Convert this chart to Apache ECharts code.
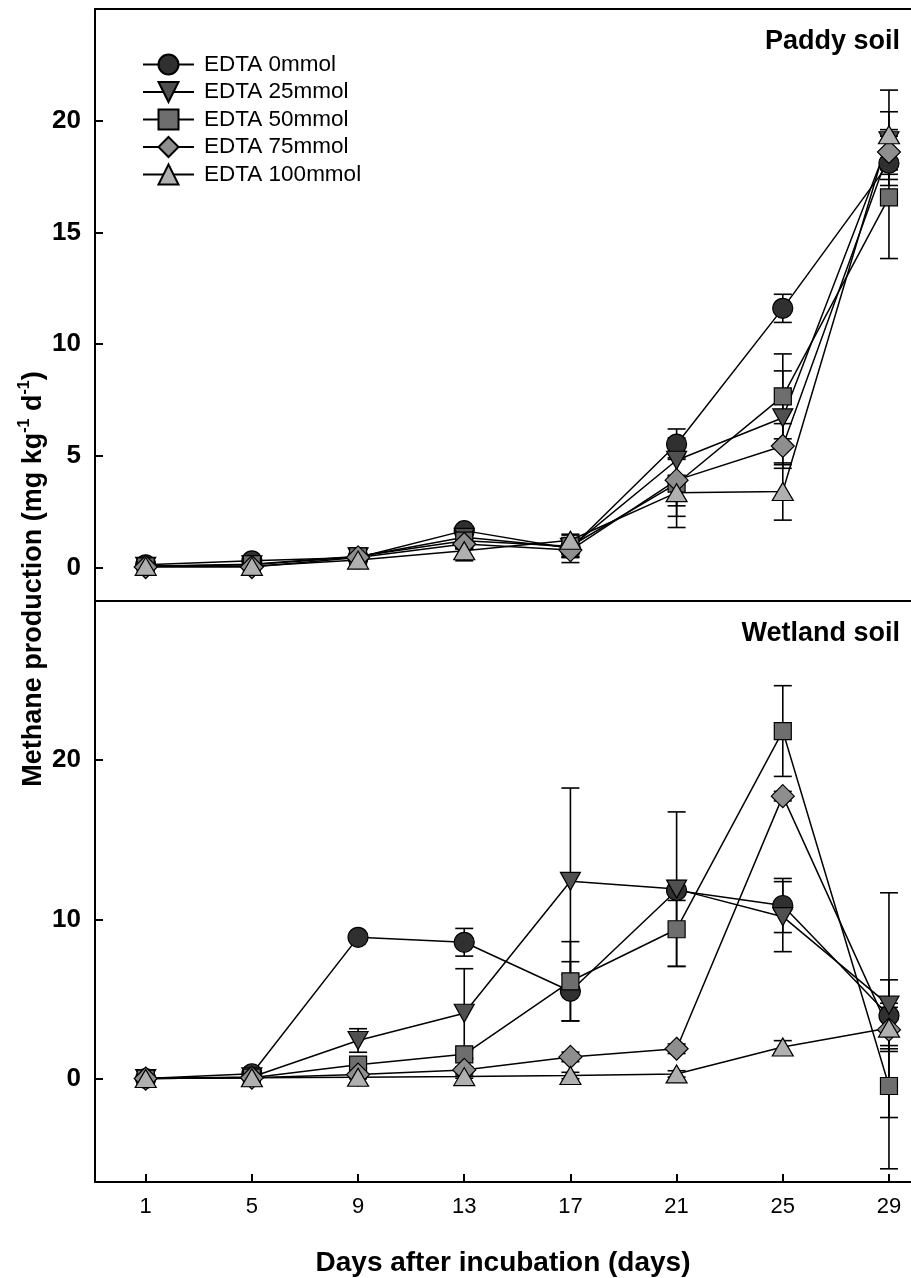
<!DOCTYPE html>
<html>
<head>
<meta charset="utf-8">
<script src="https://cdn.jsdelivr.net/npm/echarts@6/dist/echarts.min.js"></script>
<style>
html,body{margin:0;padding:0;background:#fff;}
#chart{width:911px;height:1278px;}
</style>
</head>
<body>
<div id="chart"></div>
<script>
// ---------- DATA ----------
const days = [1, 5, 9, 13, 17, 21, 25, 29];
const xTickValues = [1, 5, 9, 13, 17, 21, 25, 29];
const paddyTickValues = [0, 5, 10, 15, 20];
const wetlandTickValues = [0, 10, 20];
const seriesNames = ['EDTA 0mmol', 'EDTA 25mmol', 'EDTA 50mmol', 'EDTA 75mmol', 'EDTA 100mmol'];

// Paddy soil (top panel)
const paddy0   = [0.12, 0.30, 0.45, 1.65, 0.85, 5.52, 11.60, 18.10];
const paddy25  = [0.05, 0.12, 0.48, 1.35, 0.90, 4.80, 6.70, 19.10];
const paddy50  = [0.05, 0.15, 0.50, 1.20, 0.95, 3.75, 7.66, 16.57];
const paddy75  = [0.02, 0.02, 0.45, 1.05, 0.78, 3.91, 5.44, 18.60];
const paddy100 = [0.05, 0.05, 0.33, 0.75, 1.22, 3.35, 3.40, 19.37];
const paddyErr0   = [0.05, 0.10, 0.10, 0.20, 0.40, 0.68, 0.63, 1.00];
const paddyErr25  = [0.05, 0.10, 0.10, 0.20, 0.40, 1.00, 2.10, 1.30];
const paddyErr50  = [0.05, 0.10, 0.10, 0.20, 0.50, 1.46, 1.90, 2.74];
const paddyErr75  = [0.05, 0.10, 0.10, 0.20, 0.56, 1.15, 1.00, 1.00];
const paddyErr100 = [0.05, 0.10, 0.10, 0.45, 0.27, 1.56, 1.28, 2.00];

// Wetland soil (bottom panel)
const wet0   = [0.00, 0.30, 8.87, 8.56, 5.48, 11.81, 10.87, 3.95];
const wet25  = [0.00, 0.10, 2.39, 4.10, 12.39, 11.90, 10.17, 4.61];
const wet50  = [0.00, 0.05, 0.87, 1.52, 6.11, 9.38, 21.83, -0.47];
const wet75  = [0.00, 0.05, 0.25, 0.54, 1.36, 1.87, 17.74, 3.07];
const wet100 = [0.00, 0.05, 0.08, 0.12, 0.19, 0.29, 1.98, 3.17];
const wetErr0   = [0.05, 0.10, 0.20, 0.87, 1.86, 0.62, 1.70, 2.25];
const wetErr25  = [0.05, 0.10, 0.74, 2.80, 5.86, 4.85, 2.20, 7.06];
const wetErr50  = [0.05, 0.10, 0.20, 0.30, 2.49, 2.34, 2.85, 5.20];
const wetErr75  = [0.05, 0.10, 0.10, 0.20, 0.30, 0.30, 0.30, 1.00];
const wetErr100 = [0.05, 0.10, 0.10, 0.10, 0.20, 0.20, 0.40, 1.30];

// ---------- STYLE ----------
const paddyVals = [paddy0, paddy25, paddy50, paddy75, paddy100];
const paddyErrs = [paddyErr0, paddyErr25, paddyErr50, paddyErr75, paddyErr100];
const wetVals = [wet0, wet25, wet50, wet75, wet100];
const wetErrs = [wetErr0, wetErr25, wetErr50, wetErr75, wetErr100];

const markers = [
  {symbol: 'circle',   size: 20, rotate: 0,   color: '#303030'},
  {symbol: 'triangle', size: [20, 18], rotate: 180, color: '#505050'},
  {symbol: 'rect',     size: 17, rotate: 0,   color: '#6e6e6e'},
  {symbol: 'diamond',  size: 23, rotate: 0,   color: '#8e8e8e'},
  {symbol: 'triangle', size: [21, 18], rotate: 0,   color: '#b0b0b0'}
];

const FONT = 'Arial, "Liberation Sans", Helvetica, sans-serif';

function errRender(params, api) {
  const x = api.value(0), lo = api.value(1), hi = api.value(2);
  const pTop = api.coord([x, hi]);
  const pBot = api.coord([x, lo]);
  const hw = 9;
  const st = {stroke: '#000', lineWidth: 1.6};
  return {
    type: 'group',
    children: [
      {type: 'line', shape: {x1: pTop[0], y1: pTop[1], x2: pBot[0], y2: pBot[1]}, style: st},
      {type: 'line', shape: {x1: pTop[0] - hw, y1: pTop[1], x2: pTop[0] + hw, y2: pTop[1]}, style: st},
      {type: 'line', shape: {x1: pBot[0] - hw, y1: pBot[1], x2: pBot[0] + hw, y2: pBot[1]}, style: st}
    ]
  };
}

const lineSeries = [];
const errSeries = [];
function addPanel(vals, errs, xIdx, yIdx) {
  vals.forEach((arr, i) => {
    const m = markers[i];
    lineSeries.push({
      type: 'line',
      name: seriesNames[i],
      xAxisIndex: xIdx, yAxisIndex: yIdx,
      data: days.map((d, k) => [d, arr[k]]),
      symbol: m.symbol,
      symbolSize: m.size,
      symbolRotate: m.rotate,
      showAllSymbol: true,
      itemStyle: {color: m.color, borderColor: '#000', borderWidth: 1.2},
      lineStyle: {color: '#000', width: 1.5},
      z: 3
    });
    errSeries.push({
      type: 'custom',
      xAxisIndex: xIdx, yAxisIndex: yIdx,
      renderItem: errRender,
      encode: {x: 0, y: [1, 2]},
      data: days.map((d, k) => [d, arr[k] - errs[i][k], arr[k] + errs[i][k]]),
      z: 2,
      silent: true
    });
  });
}
addPanel(paddyVals, paddyErrs, 0, 0);
addPanel(wetVals, wetErrs, 2, 1);

const axisLineStyle = {show: true, onZero: false, lineStyle: {color: '#000', width: 2}};
const X_MIN = -0.91, X_MAX = 29.83;

const option = {
  animation: false,
  backgroundColor: '#fff',
  grid: [
    {left: 95, right: 0, top: 9, height: 592},
    {left: 95, right: 0, top: 601, height: 590}
  ],
  legend: {
    data: seriesNames,
    orient: 'vertical',
    left: 137, top: 48,
    itemWidth: 51, itemHeight: 25, itemGap: 4.5,
    textStyle: {fontFamily: FONT, fontSize: 22.5, color: '#000', padding: [0, 0, 0, 5]},
    selectedMode: false
  },
  xAxis: [
    {type: 'value', gridIndex: 0, position: 'bottom', min: X_MIN, max: X_MAX,
     axisLine: axisLineStyle, axisTick: {show: false}, axisLabel: {show: false}, splitLine: {show: false}},
    {type: 'value', gridIndex: 0, position: 'top', min: X_MIN, max: X_MAX,
     axisLine: axisLineStyle, axisTick: {show: false}, axisLabel: {show: false}, splitLine: {show: false}},
    {type: 'value', gridIndex: 1, position: 'bottom', min: X_MIN, max: X_MAX,
     axisLine: axisLineStyle,
     axisTick: {show: true, inside: true, length: 8, lineStyle: {color: '#000', width: 2}, customValues: xTickValues},
     axisLabel: {show: true, margin: 14, fontFamily: FONT, fontSize: 22, color: '#000', customValues: xTickValues},
     splitLine: {show: false},
     name: 'Days after incubation (days)', nameLocation: 'middle', nameGap: 67,
     nameTextStyle: {fontFamily: FONT, fontSize: 28, fontWeight: 'bold', color: '#000'}}
  ],
  yAxis: [
    {type: 'value', gridIndex: 0, min: -1.5, max: 25,
     axisLine: axisLineStyle,
     axisTick: {show: true, inside: true, length: 8, lineStyle: {color: '#000', width: 2}, customValues: paddyTickValues},
     axisLabel: {show: true, margin: 14, fontFamily: FONT, fontSize: 26, fontWeight: 'bold', color: '#000', customValues: paddyTickValues},
     splitLine: {show: false}},
    {type: 'value', gridIndex: 1, min: -6.5, max: 30,
     axisLine: axisLineStyle,
     axisTick: {show: true, inside: true, length: 8, lineStyle: {color: '#000', width: 2}, customValues: wetlandTickValues},
     axisLabel: {show: true, margin: 14, fontFamily: FONT, fontSize: 26, fontWeight: 'bold', color: '#000', customValues: wetlandTickValues},
     splitLine: {show: false}}
  ],
  graphic: [
    {type: 'text', right: 11, top: 28,
     style: {text: 'Paddy soil', font: 'bold 27px ' + FONT, fill: '#000'}},
    {type: 'text', right: 11, top: 620,
     style: {text: 'Wetland soil', font: 'bold 27px ' + FONT, fill: '#000'}},
    {type: 'text', x: 32, y: 579, rotation: Math.PI / 2,
     style: {
       text: '{a|Methane production (mg kg}{s|-1}{a| d}{s|-1}{a|)}',
       align: 'center', verticalAlign: 'middle',
       rich: {
         a: {fontFamily: FONT, fontSize: 27, fontWeight: 'bold', fill: '#000', lineHeight: 30, verticalAlign: 'bottom'},
         s: {fontFamily: FONT, fontSize: 16, fontWeight: 'bold', fill: '#000', lineHeight: 30, verticalAlign: 'top'}
       }
     }}
  ],
  series: lineSeries.concat(errSeries)
};

const chart = echarts.init(document.getElementById('chart'), null, {renderer: 'canvas'});
chart.setOption(option);
</script>
</body>
</html>
